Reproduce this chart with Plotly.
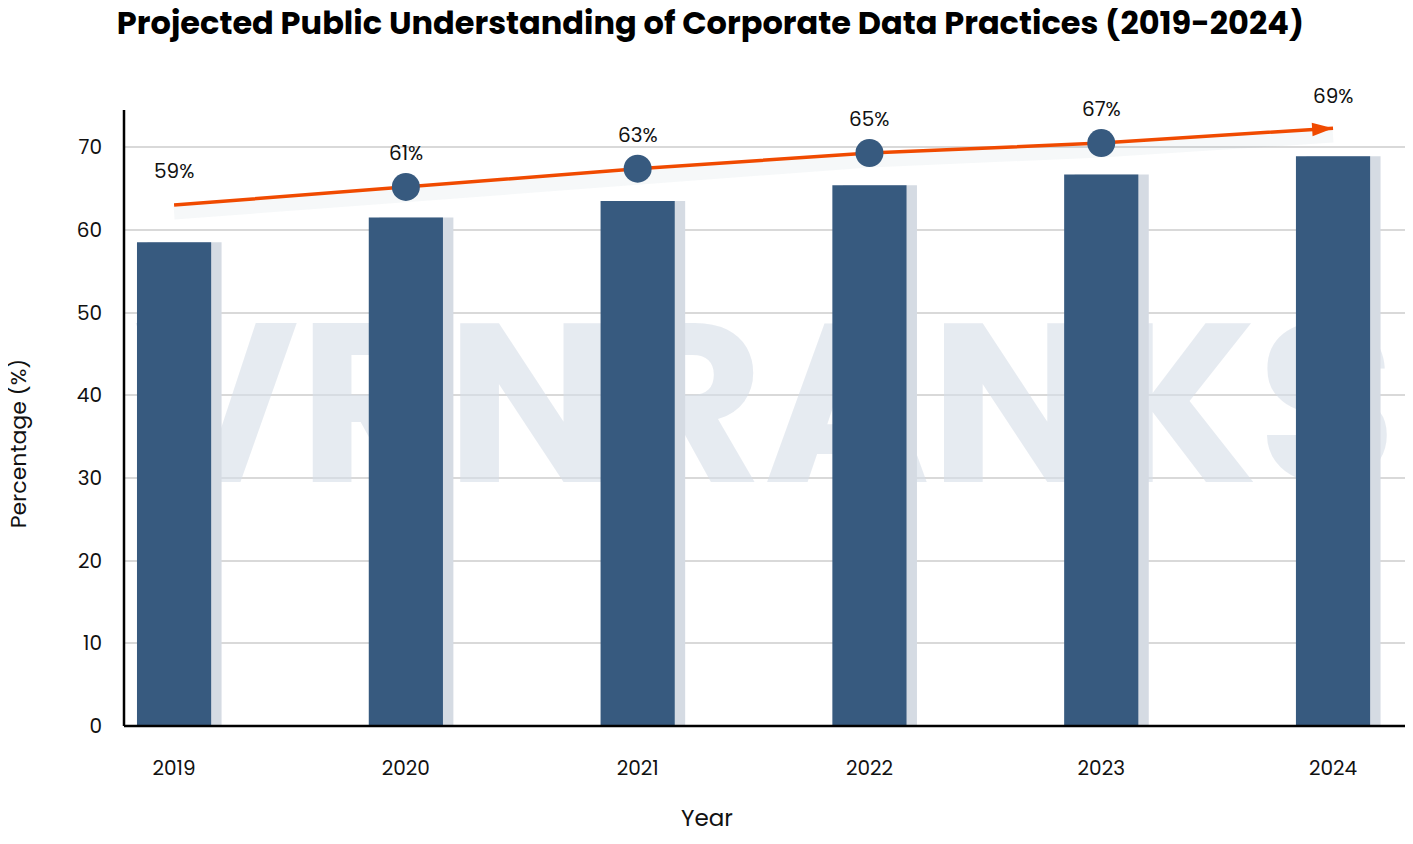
import plotly.graph_objects as go

years = ["2019", "2020", "2021", "2022", "2023", "2024"]
bar_values = [58.5, 61.5, 63.5, 65.4, 66.7, 68.9]
trend_values = [63.0, 65.2, 67.4, 69.3, 70.5, 72.3]
trend_labels = ["59%", "61%", "63%", "65%", "67%", "69%"]
y_ticks = [0, 10, 20, 30, 40, 50, 60, 70]

BAR = "#375a7f"
ORANGE = "#f04a00"
FONT = "Poppins, Inter, Lato, sans-serif"

xpos = list(range(len(years)))

fig = go.Figure()

# watermark behind everything
fig.add_trace(go.Scatter(
    x=[(xpos[0] + xpos[-1]) / 2 + 0.05], y=[36.3], mode="text", text=["VRNRANKS"],
    textfont=dict(size=226, color="rgba(214,221,232,0.6)", family=FONT, weight=700),
    hoverinfo="skip", showlegend=False, zorder=-2, cliponaxis=False,
))

# bar shadows
fig.add_trace(go.Bar(
    x=xpos, y=bar_values, width=0.32, offset=-0.16 + 0.045,
    marker=dict(color="#d5dbe3", line=dict(width=0)),
    hoverinfo="skip", showlegend=False, zorder=-1,
))
# bars
fig.add_trace(go.Bar(
    x=xpos, y=bar_values, width=0.32, offset=-0.16,
    marker=dict(color=BAR, line=dict(width=0), opacity=1),
    showlegend=False, zorder=0,
))

# soft glow under trend line
fig.add_trace(go.Scatter(
    x=xpos, y=[v - 0.9 for v in trend_values], mode="lines",
    line=dict(color="rgba(55,90,127,0.045)", width=14),
    hoverinfo="skip", showlegend=False, zorder=1,
))

# trend line
fig.add_trace(go.Scatter(
    x=xpos, y=trend_values, mode="lines+markers",
    line=dict(color=ORANGE, width=3.5),
    marker=dict(
        symbol=["circle"] * 5 + ["arrow"],
        size=[28] * 5 + [22],
        color=[BAR] * 5 + [ORANGE],
        angleref="previous",
        opacity=1,
        line=dict(width=0),
    ),
    showlegend=False, zorder=2, cliponaxis=False,
))

annotations = [
    dict(x=x, y=v, text=t, showarrow=False, xref="x", yref="y",
         yshift=34 if i < len(xpos) - 1 else 32,
         font=dict(size=20, color="#111111", family=FONT))
    for i, (x, v, t) in enumerate(zip(xpos, trend_values, trend_labels))
]
annotations.append(dict(
    text="Percentage (%)", textangle=-90, showarrow=False,
    xref="paper", yref="paper", x=0, y=0.459, xanchor="center", yanchor="middle",
    xshift=-106, font=dict(size=22, color="#111111", family=FONT),
))
annotations.append(dict(
    text="Year", showarrow=False,
    xref="paper", yref="paper", x=0.4523, y=0, xanchor="center", yanchor="middle",
    yshift=-92, font=dict(size=23, color="#111111", family=FONT),
))

# axis lines as shapes (drawn above the traces)
shapes = [
    dict(type="line", xref="paper", yref="paper", x0=0, x1=0, y0=0, y1=1,
         line=dict(color="#000000", width=2.5), layer="above"),
    dict(type="line", xref="paper", yref="paper", x0=0, x1=1, y0=0, y1=0,
         line=dict(color="#000000", width=2.5), layer="above"),
]

fig.update_layout(
    width=1405, height=836,
    margin=dict(l=116, r=0, t=102, b=118),
    paper_bgcolor="white", plot_bgcolor="rgba(0,0,0,0)",
    barmode="overlay",
    font=dict(family=FONT, color="#111111"),
    annotations=annotations,
    shapes=shapes,
    title=dict(
        text="<b>Projected Public Understanding of Corporate Data Practices (2019-2024)</b>",
        x=0.5, xanchor="center", y=1 - 15 / 836, yanchor="middle",
        font=dict(size=32, family=FONT, color="#000000"),
    ),
)
fig.update_xaxes(
    range=[-0.216, 5.345], tickvals=xpos, ticktext=years,
    showline=False, showgrid=False, zeroline=False, ticks="", ticklabelstandoff=28,
    tickfont=dict(size=20, color="#111111"),
)
fig.update_yaxes(
    range=[0, 74.5], tickvals=y_ticks,
    showline=False, showgrid=True, gridcolor="#d9d9d9", gridwidth=2,
    zeroline=False, ticks="", ticklabelstandoff=21,
    tickfont=dict(size=20, color="#111111"),
)

fig.write_html("out.html")
